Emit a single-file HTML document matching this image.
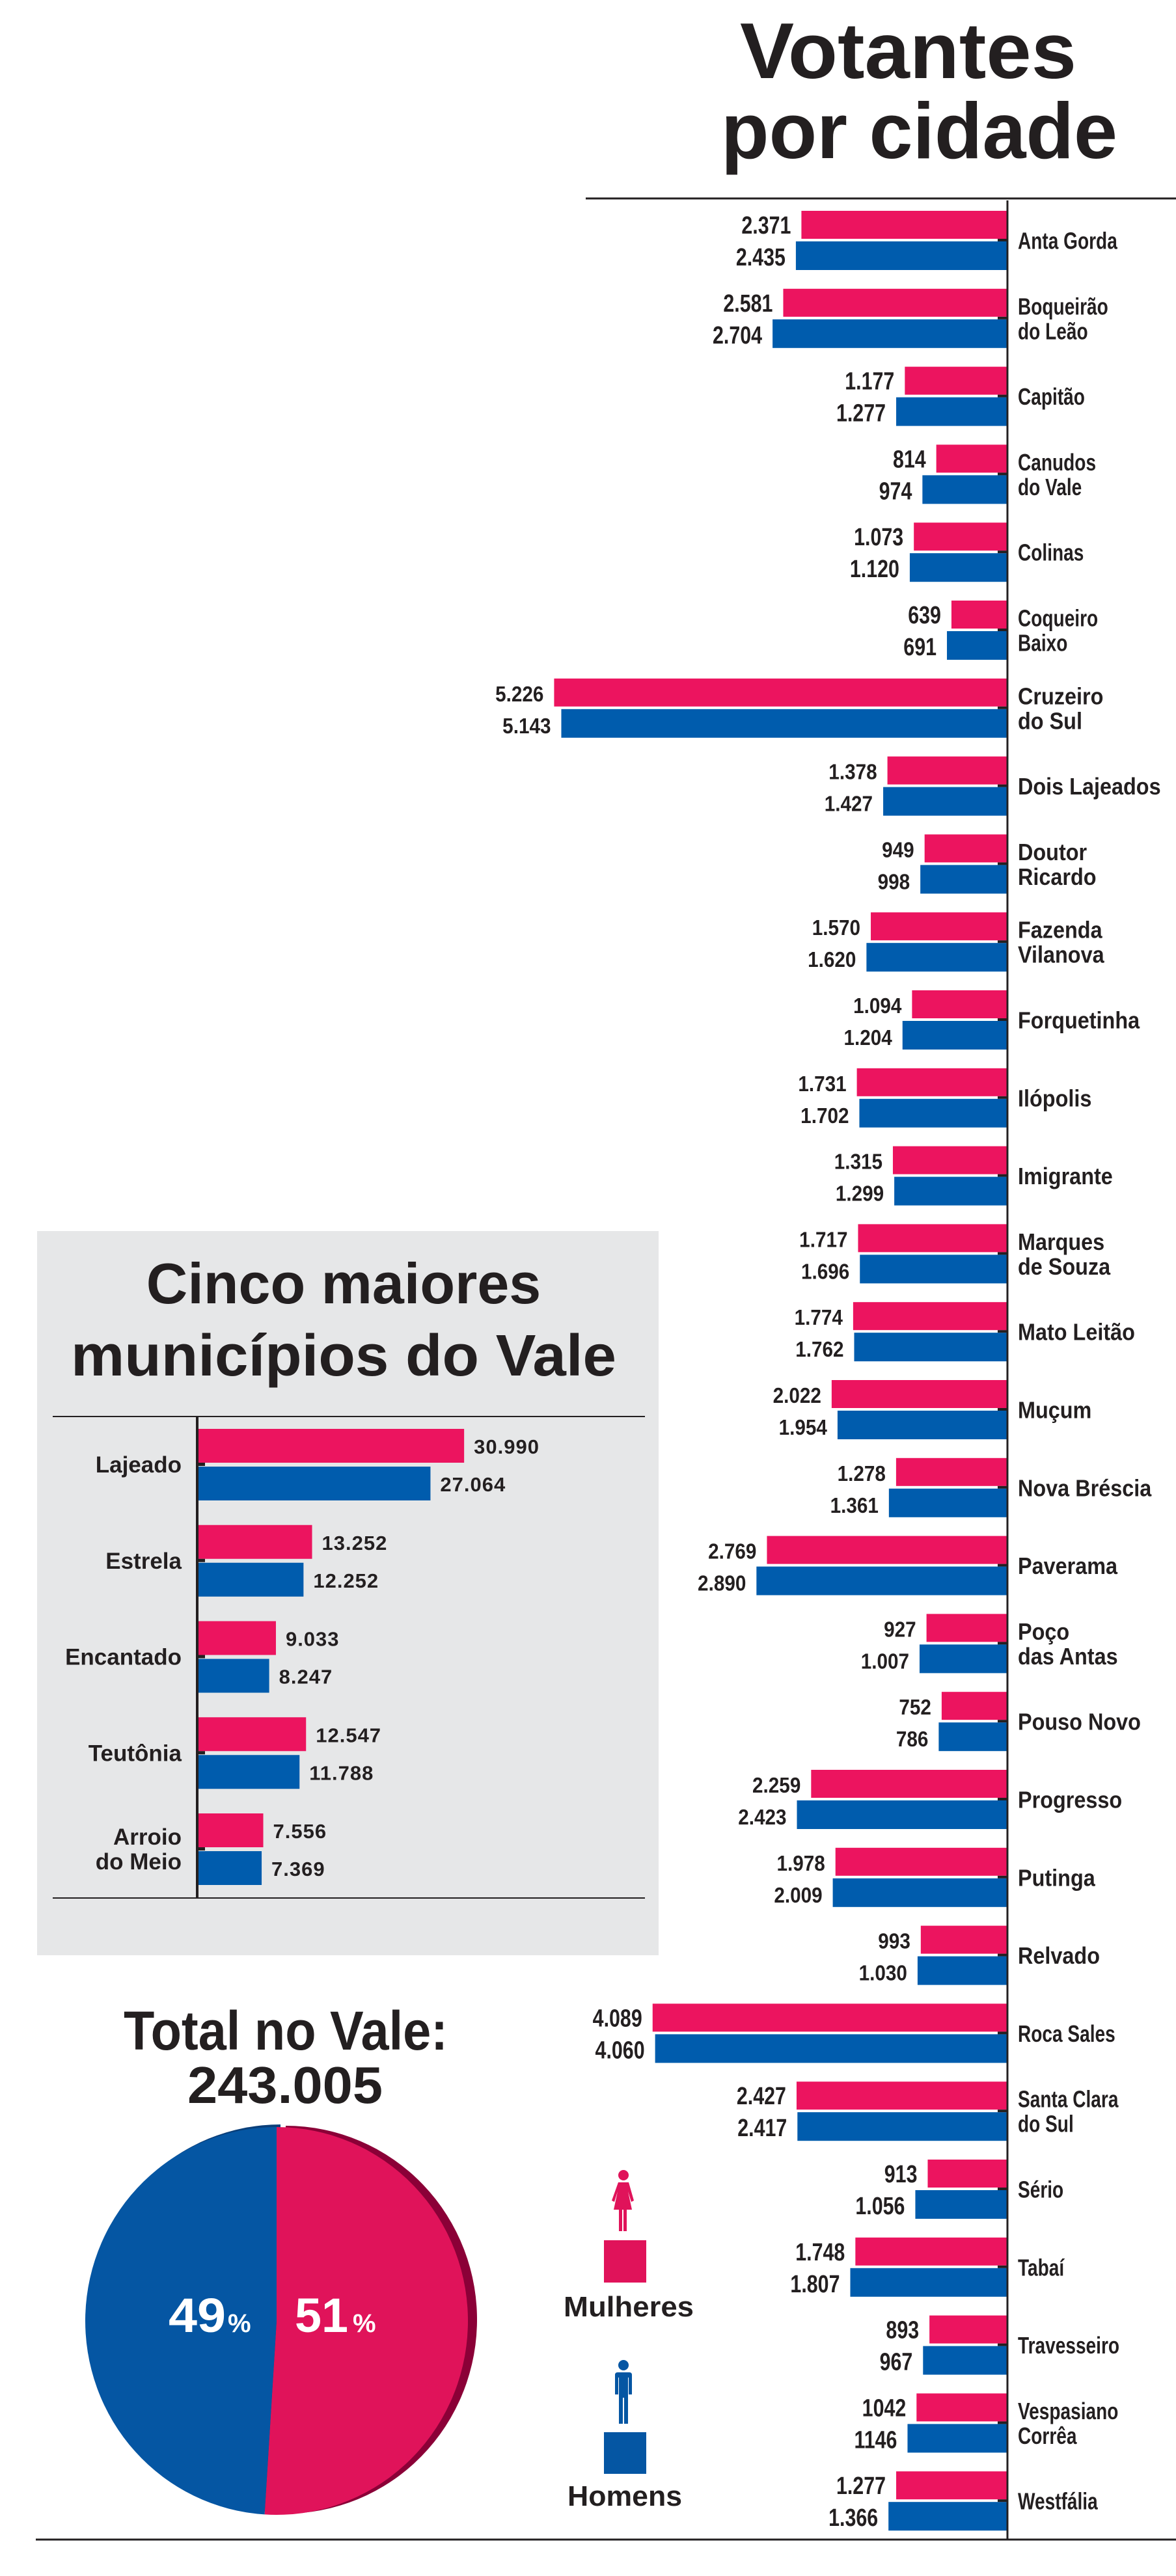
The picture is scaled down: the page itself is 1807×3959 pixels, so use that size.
<!DOCTYPE html>
<html><head><meta charset="utf-8">
<style>
html,body{margin:0;padding:0;background:#fff;}
svg{display:block;font-family:"Liberation Sans",Arial,sans-serif;font-weight:bold;}
</style></head>
<body>
<svg id="chart" width="1807" height="3959" viewBox="0 0 1807 3959" xmlns="http://www.w3.org/2000/svg">
  <text x="1137" y="120" font-size="122" fill="#231f20" textLength="517" lengthAdjust="spacingAndGlyphs">Votantes</text>
  <text x="1108" y="243" font-size="122" fill="#231f20" textLength="609" lengthAdjust="spacingAndGlyphs">por cidade</text>
  <line x1="900" y1="305" x2="1807" y2="305" stroke="#231f20" stroke-width="3"/>
  <line x1="55" y1="3903" x2="1807" y2="3903" stroke="#231f20" stroke-width="3"/>

  <rect x="57" y="1892" width="955" height="1113" fill="#e6e7e8"/>
  <text x="528" y="2003" font-size="88" text-anchor="middle" fill="#231f20">Cinco maiores</text>
  <text x="109" y="2114" font-size="90" fill="#231f20" textLength="838" lengthAdjust="spacingAndGlyphs">municípios do Vale</text>
  <line x1="81" y1="2177" x2="991" y2="2177" stroke="#231f20" stroke-width="2"/>
  <line x1="81" y1="2917" x2="991" y2="2917" stroke="#231f20" stroke-width="2"/>

  <text x="190" y="3150" font-size="84" fill="#231f20" textLength="498" lengthAdjust="spacingAndGlyphs">Total no Vale:</text>
  <text x="288" y="3232" font-size="80" fill="#231f20" textLength="300" lengthAdjust="spacingAndGlyphs">243.005</text>

  <g id="pie"></g>

  <g>
    <g fill="#e0135a">
      <circle cx="958" cy="3343" r="8"/>
      <path d="M950 3354 h16 l8 28 -4 2 -5 -16 6 28 h-8 v33 h-5 v-33 h-2 v33 h-5 v-33 h-8 l6 -28 -5 16 -4 -2z"/>
    </g>
    <rect x="928" y="3443" width="65" height="65" fill="#e0135a"/>
    <text x="866" y="3560" font-size="44" fill="#231f20" textLength="200" lengthAdjust="spacingAndGlyphs">Mulheres</text>
  </g>
  <g>
    <g fill="#0556a3">
      <circle cx="958" cy="3635" r="8"/>
      <path d="M949 3646 h18 q4 0 4 4 v30 h-5 v-26 h-1 v71 h-6 v-40 h-2 v40 h-6 v-71 h-1 v26 h-5 v-30 q0 -4 4 -4z"/>
    </g>
    <rect x="928" y="3738" width="65" height="64" fill="#0556a3"/>
    <text x="872" y="3851" font-size="44" fill="#231f20" textLength="176" lengthAdjust="spacingAndGlyphs">Homens</text>
  </g>

  <g id="main"></g>
  <g id="top5"></g>
</svg>
<script>
// ---- Main chart data ----
const cities = ["Anta Gorda","Boqueirão|do Leão","Capitão","Canudos|do Vale","Colinas","Coqueiro|Baixo","Cruzeiro|do Sul","Dois Lajeados","Doutor|Ricardo","Fazenda|Vilanova","Forquetinha","Ilópolis","Imigrante","Marques|de Souza","Mato Leitão","Muçum","Nova Bréscia","Paverama","Poço|das Antas","Pouso Novo","Progresso","Putinga","Relvado","Roca Sales","Santa Clara|do Sul","Sério","Tabaí","Travesseiro","Vespasiano|Corrêa","Westfália"];
const women = [2371,2581,1177,814,1073,639,5226,1378,949,1570,1094,1731,1315,1717,1774,2022,1278,2769,927,752,2259,1978,993,4089,2427,913,1748,893,1042,1277];
const men = [2435,2704,1277,974,1120,691,5143,1427,998,1620,1204,1702,1299,1696,1762,1954,1361,2890,1007,786,2423,2009,1030,4060,2417,1056,1807,967,1146,1366];
// ---- Top 5 data ----
const top5Cities = ["Lajeado","Estrela","Encantado","Teutônia","Arroio|do Meio"];
const top5Women = [30990,13252,9033,12547,7556];
const top5Men = [27064,12252,8247,11788,7369];
// ---- Pie data ----
const pieShares = [49,51]; // men, women

const NS="http://www.w3.org/2000/svg";
const PINK="#ec145f", BLUE="#005cad", INK="#231f20";
function el(tag,attrs,parent){const e=document.createElementNS(NS,tag);for(const k in attrs)e.setAttribute(k,attrs[k]);parent.appendChild(e);return e;}
function fmt(v,plain){if(plain)return String(v);return v>=1000?Math.floor(v/1000)+"."+String(v%1000).padStart(3,"0"):String(v);}

// ---- main chart ----
const main=document.getElementById('main');
const AX=1547, TOP=324, PITCH=119.8, K=0.1331;
const xw=v=>v*K;
const yG=i=>TOP+i*PITCH;
const condensed=i=>(i<=5||i>=23);
cities.forEach((c,i)=>{
  const y=yG(i);
  const sx=condensed(i)?0.78:0.9;
  const pw=xw(women[i]), bw=xw(men[i]);
  const r1=el('rect',{x:AX-pw,y:y,width:pw,height:43,fill:PINK},main);
  
  
  const r2=el('rect',{x:AX-bw,y:y+47,width:bw,height:44,fill:BLUE},main);
  
  
  const tk=el('rect',{x:AX-14,y:y+43,width:14,height:4,fill:INK},main);
  
  
  const plain=(i===28);
  const fs=condensed(i)?38:33;
  const vsx=condensed(i)?0.8:0.9;
  const t1=el('text',{transform:`translate(${AX-pw-16},${y+35}) scale(${vsx},1)`,'text-anchor':'end','font-size':fs,fill:INK},main);
  t1.textContent=fmt(women[i],plain);
  
  
  const t2=el('text',{transform:`translate(${AX-bw-16},${y+84}) scale(${vsx},1)`,'text-anchor':'end','font-size':fs,fill:INK},main);
  t2.textContent=fmt(men[i],plain);
  
  
  const lines=c.split('|');
  const cy=y+45.5;
  lines.forEach((ln,j)=>{
    const by=cy+13+(j-(lines.length-1)/2)*38;
    const t=el('text',{transform:`translate(1564,${by}) scale(${sx},1)`,'font-size':36,fill:INK},main);
    t.textContent=ln;
    
    
  });
});
const axis=el('line',{x1:AX+1,y1:308,x2:AX+1,y2:3903,stroke:INK,'stroke-width':3},main);



// ---- top5 chart ----
const t5=document.getElementById('top5');
const AX2=305, TOP2=2196, P2=147.75, K2=0.01317;
top5Cities.forEach((c,i)=>{
  const y=TOP2+i*P2;
  const pw=top5Women[i]*K2, bw=top5Men[i]*K2;
  const r1=el('rect',{x:AX2,y:y,width:pw,height:52,fill:PINK},t5);
  
  
  const r2=el('rect',{x:AX2,y:y+58,width:bw,height:52,fill:BLUE},t5);
  
  
  const tk=el('rect',{x:AX2,y:y+52,width:10,height:5,fill:INK},t5);
  
  
  const a=el('text',{x:AX2+pw+15,y:y+38,'font-size':31,fill:INK,'letter-spacing':'1'},t5);
  a.textContent=fmt(top5Women[i]);
  
  
  const b=el('text',{x:AX2+bw+15,y:y+96,'font-size':31,fill:INK,'letter-spacing':'1'},t5);
  b.textContent=fmt(top5Men[i]);
  
  
  const lines=c.split('|');
  const cy=y+55;
  lines.forEach((ln,j)=>{
    const t=el('text',{x:279,y:cy+12+(j-(lines.length-1)/2)*38,'text-anchor':'end','font-size':35,fill:INK},t5);
    t.textContent=ln;
    
    
  });
});
const ax2=el('line',{x1:AX2-2,y1:2177,x2:AX2-2,y2:2917,stroke:INK,'stroke-width':4},t5);



// ---- pie ----
const pie=document.getElementById('pie');
const CX=425, CY=3567, RX=294, RY=298;
const total=pieShares[0]+pieShares[1];
const aW=pieShares[1]/total*2*Math.PI;
function pt(a,dx,dy){return [CX+dx+RX*Math.sin(a), CY+dy-RY*Math.cos(a)];}
const s0=pt(0,6,-4), s1=pt(aW,6,-4);
const rimB=el('path',{d:`M${CX+6},${CY-4} L${s1[0]},${s1[1]} A${RX} ${RY} 0 ${aW>Math.PI?0:1} 1 ${s0[0]},${s0[1]} Z`,fill:'#0a3f7a'},pie);


const r0=pt(0,14,-2), r1p=pt(aW,14,-2);
const rimP=el('path',{d:`M${CX+14},${CY-2} L${r0[0]},${r0[1]} A${RX} ${RY} 0 ${aW>Math.PI?1:0} 1 ${r1p[0]},${r1p[1]} Z`,fill:'#8b0037'},pie);


const p0=pt(0,0,0), p1=pt(aW,0,0);
const sw=el('path',{d:`M${CX},${CY} L${p0[0]},${p0[1]} A${RX} ${RY} 0 ${aW>Math.PI?1:0} 1 ${p1[0]},${p1[1]} Z`,fill:'#e0135a'},pie);


const sm=el('path',{d:`M${CX},${CY} L${p1[0]},${p1[1]} A${RX} ${RY} 0 ${aW>Math.PI?0:1} 1 ${p0[0]},${p0[1]} Z`,fill:'#0556a3'},pie);


const lm=el('text',{x:259,y:3584,'font-size':74,fill:'#fff',textLength:'88',lengthAdjust:'spacingAndGlyphs'},pie);
lm.textContent=pieShares[0];


const lm2=el('text',{x:350,y:3584,'font-size':40,fill:'#fff'},pie);
lm2.textContent='%';


const lw=el('text',{x:453,y:3584,'font-size':74,fill:'#fff',textLength:'82',lengthAdjust:'spacingAndGlyphs'},pie);
lw.textContent=pieShares[1];


const lw2=el('text',{x:542,y:3584,'font-size':40,fill:'#fff'},pie);
lw2.textContent='%';


</script>
</body></html>
